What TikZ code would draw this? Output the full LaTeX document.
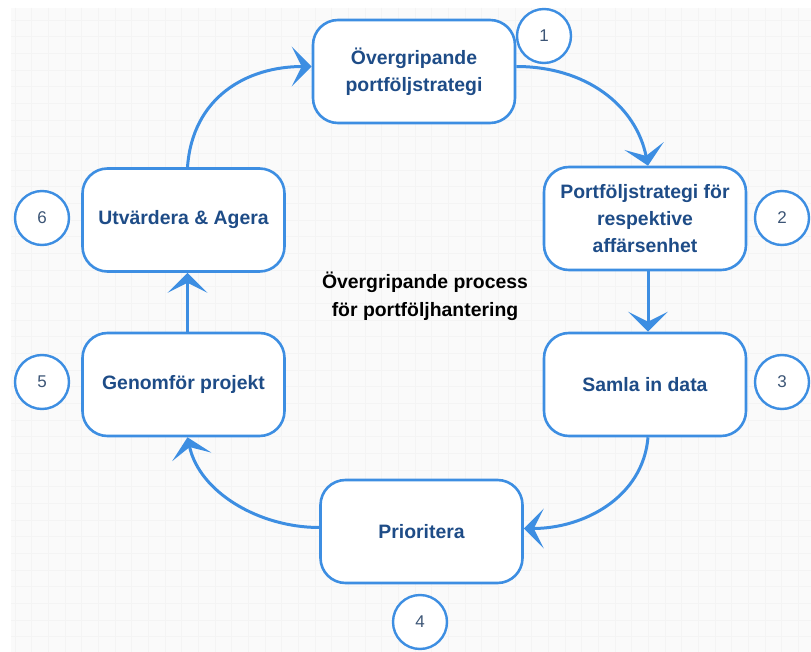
\documentclass[tikz,border=0pt]{standalone}
\usepackage{fontspec}
\setmainfont{Liberation Sans}
\usetikzlibrary{arrows.meta}
\definecolor{flowblue}{RGB}{61,142,226}
\definecolor{labelblue}{RGB}{30,76,135}
\definecolor{numgray}{RGB}{60,85,118}
\definecolor{paper}{RGB}{250,250,250}
\definecolor{gridline}{RGB}{244,244,244}

\begin{document}
\begin{tikzpicture}[x=1pt,y=-1pt,
  stepbox/.style={draw=flowblue, line width=2.6pt, fill=white, rounded corners=25pt,
    minimum width=202pt, minimum height=103pt, inner sep=0pt, align=center,
    text=labelblue, font=\fontsize{19.4}{27}\selectfont\bfseries},
  badge/.style={draw=flowblue, line width=2.4pt, fill=white, circle, minimum size=54pt,
    inner sep=0pt, text=numgray, font=\fontsize{17}{20}\selectfont},
  flow/.style={draw=flowblue, line width=3pt,
    -{Stealth[length=20pt,width=40pt,inset=10pt]}},
  caption/.style={align=center, text=black, font=\fontsize{19.4}{28}\selectfont\bfseries}]

% canvas and faint grid
\useasboundingbox (0,0) rectangle (811,652);
\fill[white] (0,0) rectangle (811,652);
\fill[paper] (11,8) rectangle (811,652);
\foreach \gx in {0,...,47}
  \draw[gridline, line width=0.8pt] ({15+16.667*\gx},8) -- ({15+16.667*\gx},652);
\foreach \gy in {0,...,37}
  \draw[gridline, line width=0.8pt] (11,{20+16.667*\gy}) -- (811,{20+16.667*\gy});

% process steps
\node[stepbox] (s1) at (414,71.5) {Övergripande\\portföljstrategi};
\node[stepbox] (s2) at (645,218.5) {Portföljstrategi för\\respektive\\affärsenhet};
\node[stepbox] (s3) at (645,384.5) {Samla in data};
\node[stepbox] (s4) at (421.5,531.5) {Prioritera};
\node[stepbox] (s5) at (183.5,384.5) {Genomför projekt};
\node[stepbox] (s6) at (183.5,220) {Utvärdera \& Agera};

% step numbers
\node[badge] (b1) at (544,36) {1};
\node[badge] (b2) at (782,218) {2};
\node[badge] (b3) at (782,382) {3};
\node[badge] (b4) at (420,622) {4};
\node[badge] (b5) at (42,382) {5};
\node[badge] (b6) at (42,218) {6};

% title in the middle of the cycle
\node[caption] (title) at (425,296) {Övergripande process\\för portföljhantering};

% cycle connectors
\draw[flow] ([xshift=4pt]s6.north) .. controls +(5,-70) and +(-65,0) .. ([yshift=5pt]s1.west);
\draw[flow] ([yshift=5pt]s1.east) .. controls +(70,0) and +(-12,-60) .. ([xshift=3pt]s2.north);
\draw[flow] ([xshift=3pt]s2.south) -- ([xshift=3pt]s3.north);
\draw[flow] ([xshift=3pt]s3.south) .. controls +(-5,60) and +(60,0) .. ([yshift=3pt]s4.east);
\draw[flow] ([yshift=4pt]s4.west) .. controls +(-60,0) and +(12,55) .. ([xshift=4pt]s5.south);
\draw[flow] ([xshift=4pt]s5.north) -- ([xshift=4pt]s6.south);
\end{tikzpicture}
\end{document}
